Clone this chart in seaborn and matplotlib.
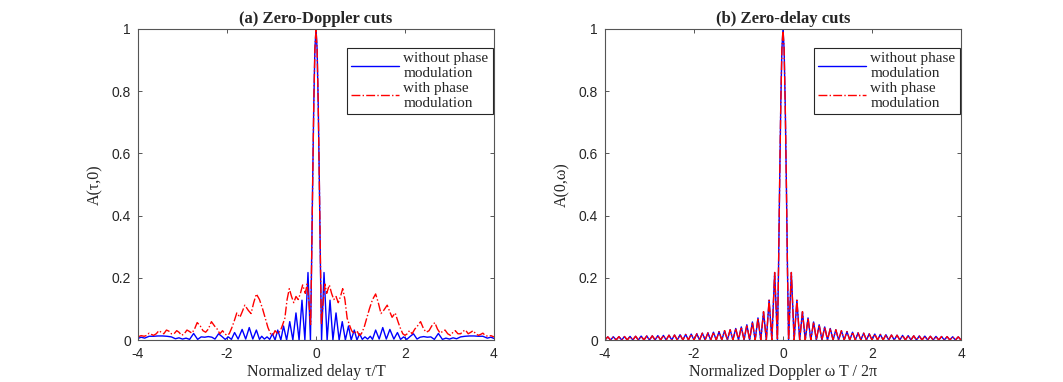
import matplotlib
matplotlib.use("Agg")
import matplotlib.pyplot as plt
import numpy as np
import pandas as pd
import seaborn as sns

# zero-Doppler cut, tau >= 0 side (the cut is symmetric), (tau/T, A)
delay_plain = [
    (0.0, 1.0), (0.025, 0.935), (0.05, 0.757), (0.075, 0.51), (0.1, 0.234),
    (0.125, 0.0), (0.18, 0.217), (0.25, 0.0), (0.315, 0.128), (0.38, 0.0),
    (0.45, 0.087), (0.52, 0.0), (0.59, 0.059), (0.66, 0.0), (0.73, 0.045),
    (0.79, 0.0), (0.86, 0.032), (0.92, 0.0), (0.98, 0.02), (1.04, 0.002),
    (1.1, 0.01), (1.16, 0.003), (1.22, 0.012), (1.27, 0.002), (1.34, 0.032),
    (1.42, 0.003), (1.5, 0.04), (1.58, 0.003), (1.66, 0.034), (1.75, 0.003),
    (1.83, 0.024), (1.9, 0.002), (1.97, 0.01), (2.04, 0.002), (2.12, 0.012),
    (2.19, 0.02), (2.27, 0.003), (2.34, 0.009), (2.42, 0.011), (2.5, 0.009),
    (2.58, 0.01), (2.66, 0.002), (2.75, 0.021), (2.84, 0.002), (2.92, 0.006),
    (3.0, 0.003), (3.08, 0.007), (3.16, 0.004), (3.25, 0.01), (3.35, 0.012),
    (3.45, 0.013), (3.55, 0.013), (3.65, 0.012), (3.75, 0.012), (3.85, 0.006),
    (3.93, 0.009), (4.0, 0.005),
]
delay_phase = [
    (0.0, 1.0), (0.025, 0.935), (0.05, 0.76), (0.075, 0.51), (0.1, 0.24),
    (0.12, 0.05), (0.16, 0.12), (0.2, 0.18), (0.24, 0.15), (0.3, 0.177),
    (0.35, 0.15), (0.4, 0.13), (0.45, 0.14), (0.5, 0.12), (0.55, 0.14),
    (0.6, 0.165), (0.65, 0.13), (0.7, 0.07), (0.76, 0.045), (0.8, 0.03),
    (0.86, 0.02), (0.92, 0.03), (0.97, 0.015), (1.02, 0.02), (1.08, 0.04),
    (1.14, 0.07), (1.2, 0.1), (1.27, 0.13), (1.34, 0.148), (1.4, 0.12),
    (1.46, 0.085), (1.52, 0.095), (1.6, 0.112), (1.66, 0.09), (1.71, 0.073),
    (1.78, 0.087), (1.84, 0.06), (1.89, 0.04), (1.95, 0.02), (2.0, 0.015),
    (2.05, 0.02), (2.1, 0.03), (2.16, 0.02), (2.22, 0.035), (2.28, 0.045),
    (2.35, 0.059), (2.42, 0.035), (2.48, 0.025), (2.54, 0.03), (2.6, 0.045),
    (2.67, 0.056), (2.73, 0.035), (2.79, 0.022), (2.85, 0.028), (2.9, 0.032),
    (2.96, 0.02), (3.02, 0.015), (3.08, 0.025), (3.13, 0.03), (3.19, 0.02),
    (3.25, 0.02), (3.3, 0.028), (3.36, 0.032), (3.42, 0.02), (3.48, 0.025),
    (3.53, 0.03), (3.59, 0.02), (3.65, 0.015), (3.7, 0.018), (3.75, 0.022),
    (3.8, 0.015), (3.86, 0.012), (3.93, 0.014), (4.0, 0.01),
]

# zero-delay cut: main lobe, then sidelobe peaks between nulls 1/8 apart
doppler_main = [(0.0, 1.0), (0.025, 0.935), (0.05, 0.757), (0.075, 0.51), (0.1, 0.234)]
doppler_null_step = 0.125
doppler_peaks = [
    0.217, 0.128, 0.091, 0.071, 0.058, 0.049, 0.042, 0.037, 0.033, 0.030,
    0.027, 0.025, 0.023, 0.022, 0.020, 0.019, 0.018, 0.017, 0.016, 0.0155,
    0.0148, 0.0141, 0.0135, 0.013, 0.0125, 0.012, 0.0116, 0.0112, 0.0108,
    0.0104, 0.0101,
]

x_ticks = [-4, -2, 0, 2, 4]
y_ticks = [0, 0.2, 0.4, 0.6, 0.8, 1.0]
y_tick_labels = ["0", "0.2", "0.4", "0.6", "0.8", "1"]
legend_labels = ["without phase\nmodulation", "with phase\nmodulation"]


def mirrored(pairs):
    x = np.array([p[0] for p in pairs])
    y = np.array([p[1] for p in pairs])
    return np.concatenate([-x[:0:-1], x]), np.concatenate([y[:0:-1], y])


def doppler_pairs():
    pairs = list(doppler_main)
    for k, h in enumerate(doppler_peaks, start=1):
        pairs.append((k * doppler_null_step, 0.0))
        pairs.append(((k + 0.5) * doppler_null_step, h))
    pairs.append(((len(doppler_peaks) + 1) * doppler_null_step, 0.0))
    return pairs


sns.set_style("ticks")
plt.rcParams["font.family"] = ["Liberation Sans", "DejaVu Sans"]
serif = ["Liberation Serif", "DejaVu Serif"]

W, H = 1063, 382
fig = plt.figure(figsize=(W / 100, H / 100), dpi=100)
ax_a = fig.add_axes([138 / W, 1 - 340 / H, 356 / W, 311 / H])
ax_b = fig.add_axes([605 / W, 1 - 340 / H, 356 / W, 311 / H])

panels = [
    (ax_a, mirrored(delay_plain), mirrored(delay_phase),
     "(a) Zero-Doppler cuts", "Normalized delay τ/T", "A(τ,0)"),
    (ax_b, mirrored(doppler_pairs()), mirrored(doppler_pairs()),
     "(b) Zero-delay cuts", "Normalized Doppler ω T / 2π", "A(0,ω)"),
]

for ax, (x1, y1), (x2, y2), title, xlabel, ylabel in panels:
    sns.lineplot(x=x1, y=y1, ax=ax, color="#0000ff", lw=1.0, sort=False,
                 estimator=None, label=legend_labels[0])
    sns.lineplot(x=x2, y=y2, ax=ax, color="#ff0000", lw=1.0, ls="-.", sort=False,
                 estimator=None, label=legend_labels[1])
    ax.set_xlim(-4, 4)
    ax.set_ylim(0, 1)
    ax.set_xticks(x_ticks)
    ax.set_xticklabels([str(t) for t in x_ticks])
    ax.set_yticks(y_ticks)
    ax.set_yticklabels(y_tick_labels)
    ax.tick_params(direction="in", length=3, width=0.7, top=True, right=True,
                   labelsize=10, colors="#555555", labelcolor="#262626", pad=5)
    for sp in ax.spines.values():
        sp.set_visible(True)
        sp.set_color("#555555")
        sp.set_linewidth(0.8)
    ax.set_title(title, family=serif, fontweight="bold", fontsize=12, pad=4)
    ax.set_xlabel(xlabel, family=serif, fontsize=11.5, color="#262626", labelpad=2)
    ax.set_ylabel(ylabel, family=serif, fontsize=11.5, color="#262626", labelpad=6)
    leg = ax.legend(loc="upper right", bbox_to_anchor=(0.997, 0.94), borderaxespad=0,
                    frameon=True, fancybox=False, framealpha=1, handlelength=3.1,
                    prop={"family": serif, "size": 11}, labelspacing=0.1,
                    borderpad=0.3, handletextpad=0.3)
    leg.get_frame().set_edgecolor("#262626")
    leg.get_frame().set_linewidth(0.8)

fig.savefig("out.png", dpi=100)
